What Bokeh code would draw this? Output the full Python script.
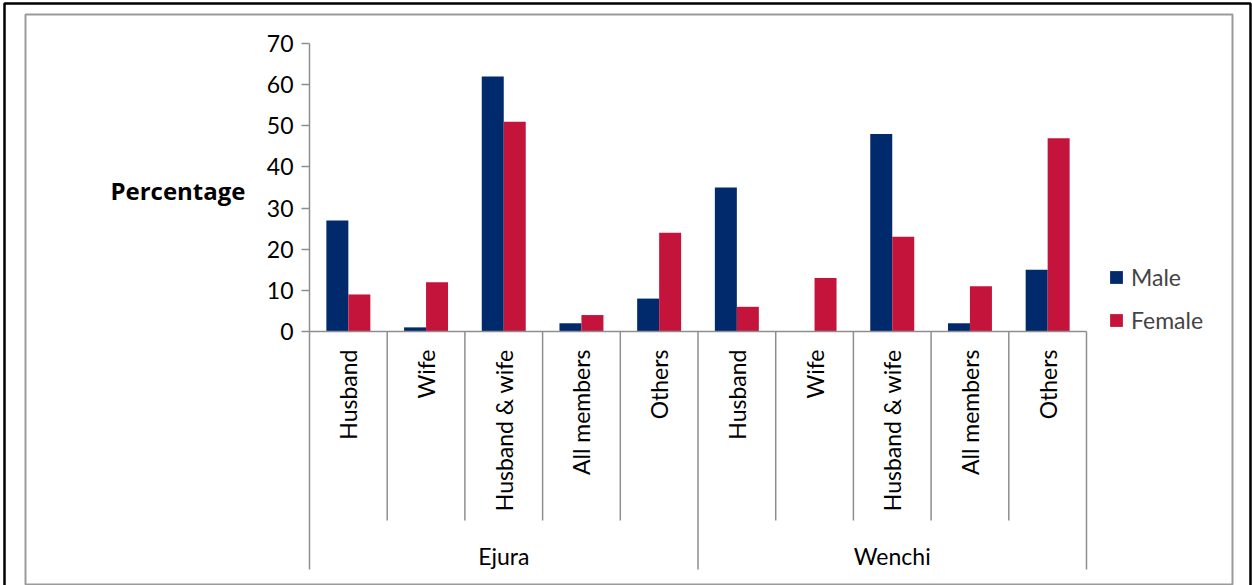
import numpy as np
from bokeh.plotting import figure
from bokeh.models import (Range1d, Legend, LegendItem, Label, BoxAnnotation,
                          FixedTicker, LinearAxis)
from bokeh.embed import file_html
from bokeh.resources import INLINE
from bokeh.core.properties import value

# --- data -------------------------------------------------------------
districts = ["Ejura", "Wenchi"]
roles = ["Husband", "Wife", "Husband & wife", "All members", "Others"]
male = [27, 1, 62, 2, 8, 35, 0, 48, 2, 15]
female = [9, 12, 51, 4, 24, 6, 13, 23, 11, 47]
y_ticks = [0, 10, 20, 30, 40, 50, 60, 70]
series = ["Male", "Female"]

# --- layout constants (pixels) ------------------------------------------
W, H = 1252, 585
AXIS_PX = 309             # column where the value axis sits
ZERO_PX = 331             # pixel row of the value 0
TOP_PX = 43               # pixel row of the value 70
CAT_PX = 77.7             # width of one category slot
PX_PER_UNIT = (ZERO_PX - TOP_PX) / 70.0

FONT = "Lato"
NAVY = "#002A6C"
CRIMSON = "#C4143C"
AXIS_GREY = "#8E8E8E"


def px_to_y(py):
    return (ZERO_PX - py) / PX_PER_UNIT


def px_to_x(px):
    return (px - AXIS_PX) / CAT_PX


# the plotting frame covers the whole canvas
p = figure(width=W, height=H, output_backend="svg", toolbar_location=None,
           x_range=Range1d(px_to_x(0), px_to_x(W)),
           y_range=Range1d(px_to_y(H), px_to_y(0)),
           x_axis_location=None, y_axis_location=None,
           min_border_left=0, min_border_right=0,
           min_border_top=0, min_border_bottom=0)
p.outline_line_color = None
p.grid.visible = False
p.background_fill_color = "white"
p.border_fill_color = "white"

# value axis pinned at x = 0
ax = LinearAxis(fixed_location=0, bounds=(0, 70),
                ticker=FixedTicker(ticks=y_ticks))
ax.minor_tick_line_color = None
ax.major_tick_in = 0
ax.major_tick_out = 8
ax.axis_line_color = AXIS_GREY
ax.axis_line_width = 1.5
ax.major_tick_line_color = AXIS_GREY
ax.major_tick_line_width = 1.5
ax.major_label_text_font = FONT
ax.major_label_text_font_size = "23px"
ax.major_label_text_color = "black"
ax.major_label_standoff = 8
p.add_layout(ax, "left")

# bars
n = len(male)
centers = np.arange(n) + 0.5
bar_w = 0.283
r_male = p.vbar(x=centers - bar_w / 2, top=male, width=bar_w, bottom=0,
                fill_color=NAVY, line_color=None)
r_female = p.vbar(x=centers + bar_w / 2, top=female, width=bar_w, bottom=0,
                  fill_color=CRIMSON, line_color=None)

# category axis line
p.segment(x0=[0], y0=[0], x1=[n], y1=[0], line_color=AXIS_GREY, line_width=1.5)

# separators between roles and between districts
inner_depth = px_to_y(520)
outer_depth = px_to_y(569)
bounds_x = np.arange(n + 1)
is_group = (bounds_x % len(roles)) == 0
p.segment(x0=bounds_x[~is_group], y0=0, x1=bounds_x[~is_group], y1=inner_depth,
          line_color=AXIS_GREY, line_width=1.5)
p.segment(x0=bounds_x[is_group], y0=0, x1=bounds_x[is_group], y1=outer_depth,
          line_color=AXIS_GREY, line_width=1.5)

# role labels, rotated
role_labels = roles * len(districts)
p.text(x=centers, y=px_to_y(349), text=role_labels, angle=np.pi / 2,
       text_align="right", text_baseline="middle",
       text_font=value(FONT), text_font_size="23px", text_color="black")

# district labels
group_x = [len(roles) * (i + 0.5) for i in range(len(districts))]
p.text(x=group_x, y=px_to_y(555), text=districts, text_align="center",
       text_baseline="middle", text_font=value(FONT), text_font_size="23px",
       text_color="black")

# y-axis title
p.add_layout(Label(x=px_to_x(245), y=px_to_y(190), text="Percentage",
                   text_align="right", text_baseline="middle",
                   text_font="Open Sans", text_font_size="24px",
                   text_font_style="bold", text_color="black"))

# legend
legend = Legend(items=[LegendItem(label=series[0], renderers=[r_male]),
                       LegendItem(label=series[1], renderers=[r_female])],
                location=(1108, H - 334),
                orientation="vertical", glyph_width=16, glyph_height=16,
                label_text_font=FONT, label_text_font_size="23px",
                label_standoff=7, spacing=15, padding=0, margin=0,
                border_line_color=None, background_fill_alpha=0,
                label_height=16)
p.add_layout(legend)

# chart borders
p.add_layout(BoxAnnotation(left=px_to_x(25), right=px_to_x(1232),
                           top=px_to_y(14), bottom=px_to_y(584),
                           fill_alpha=0, line_color="#9A9A9A", line_alpha=1,
                           line_width=2))
p.add_layout(BoxAnnotation(left=px_to_x(4), right=px_to_x(1250),
                           top=px_to_y(3), bottom=px_to_y(590),
                           fill_alpha=0, line_color="black", line_alpha=1,
                           line_width=2.5))

open("out.html", "w").write(file_html(p, INLINE))
